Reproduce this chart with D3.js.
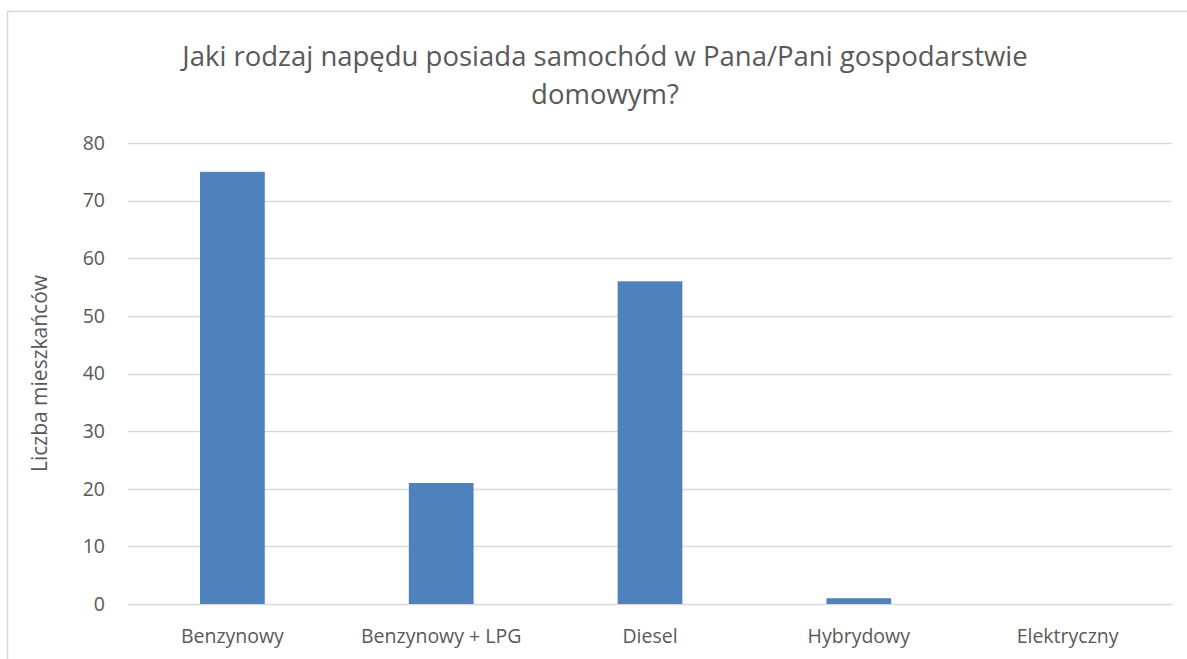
<!DOCTYPE html>
<html>
<head>
<meta charset="utf-8">
<script src="https://cdn.jsdelivr.net/npm/d3@7"></script>
<style>
  body { margin: 0; background: #fff; }
  svg text { font-family: "Open Sans", "Noto Sans", sans-serif; fill: #595959; }
</style>
</head>
<body>
<div id="chart"></div>
<script>
  var categories = ['Benzynowy', 'Benzynowy + LPG', 'Diesel', 'Hybrydowy', 'Elektryczny'];
  var values = [75, 21, 56, 1, 0];
  var yTicks = [0, 10, 20, 30, 40, 50, 60, 70, 80];
  var titleLines = ['Jaki rodzaj napędu posiada samochód w Pana/Pani gospodarstwie', 'domowym?'];
  var yLabel = 'Liczba mieszkańców';

  var width = 1187, height = 659;
  var margin = { top: 143, right: 15, bottom: 54, left: 128 };

  var svg = d3.select('#chart').append('svg')
    .attr('width', width)
    .attr('height', height);

  // chart frame
  svg.append('rect')
    .attr('x', 7.5)
    .attr('y', 11.5)
    .attr('width', width + 10)
    .attr('height', height + 10)
    .attr('fill', 'none')
    .attr('stroke', '#d9d9d9')
    .attr('stroke-width', 1.5);

  var x = d3.scaleBand()
    .domain(categories)
    .range([margin.left, width - margin.right])
    .paddingInner(0.69)
    .paddingOuter(0.345);

  var y = d3.scaleLinear()
    .domain([0, 80])
    .range([height - margin.bottom - 1, margin.top]);

  // gridlines
  svg.append('g')
    .selectAll('line')
    .data(yTicks)
    .enter().append('line')
    .attr('x1', margin.left)
    .attr('x2', width - margin.right)
    .attr('y1', function(d) { return Math.round(y(d)) + 0.5; })
    .attr('y2', function(d) { return Math.round(y(d)) + 0.5; })
    .attr('stroke', '#d9d9d9')
    .attr('stroke-width', 1.5);

  // y tick labels
  svg.append('g')
    .selectAll('text')
    .data(yTicks)
    .enter().append('text')
    .attr('x', 105)
    .attr('y', function(d) { return y(d); })
    .attr('dy', '0.35em')
    .attr('text-anchor', 'end')
    .attr('font-size', 19.5)
    .text(function(d) { return d; });

  // bars
  svg.append('g')
    .selectAll('rect')
    .data(values)
    .enter().append('rect')
    .attr('x', function(d, i) { return x(categories[i]); })
    .attr('width', x.bandwidth())
    .attr('y', function(d) { return y(d); })
    .attr('height', function(d) { return y(0) - y(d); })
    .attr('fill', '#4f81bd');

  // x labels
  svg.append('g')
    .selectAll('text')
    .data(categories)
    .enter().append('text')
    .attr('x', function(d) { return x(d) + x.bandwidth() / 2; })
    .attr('y', 643)
    .attr('text-anchor', 'middle')
    .attr('font-size', 19.5)
    .text(function(d) { return d; });

  // title
  svg.append('g')
    .selectAll('text')
    .data(titleLines)
    .enter().append('text')
    .attr('x', 605)
    .attr('y', function(d, i) { return 66 + i * 38; })
    .attr('text-anchor', 'middle')
    .attr('font-size', 27.5)
    .text(function(d) { return d; });

  // y axis label
  svg.append('text')
    .attr('transform', 'translate(40,' + y(40) + ') rotate(-90)')
    .attr('text-anchor', 'middle')
    .attr('dy', '0.35em')
    .attr('font-size', 21)
    .text(yLabel);
</script>
</body>
</html>
